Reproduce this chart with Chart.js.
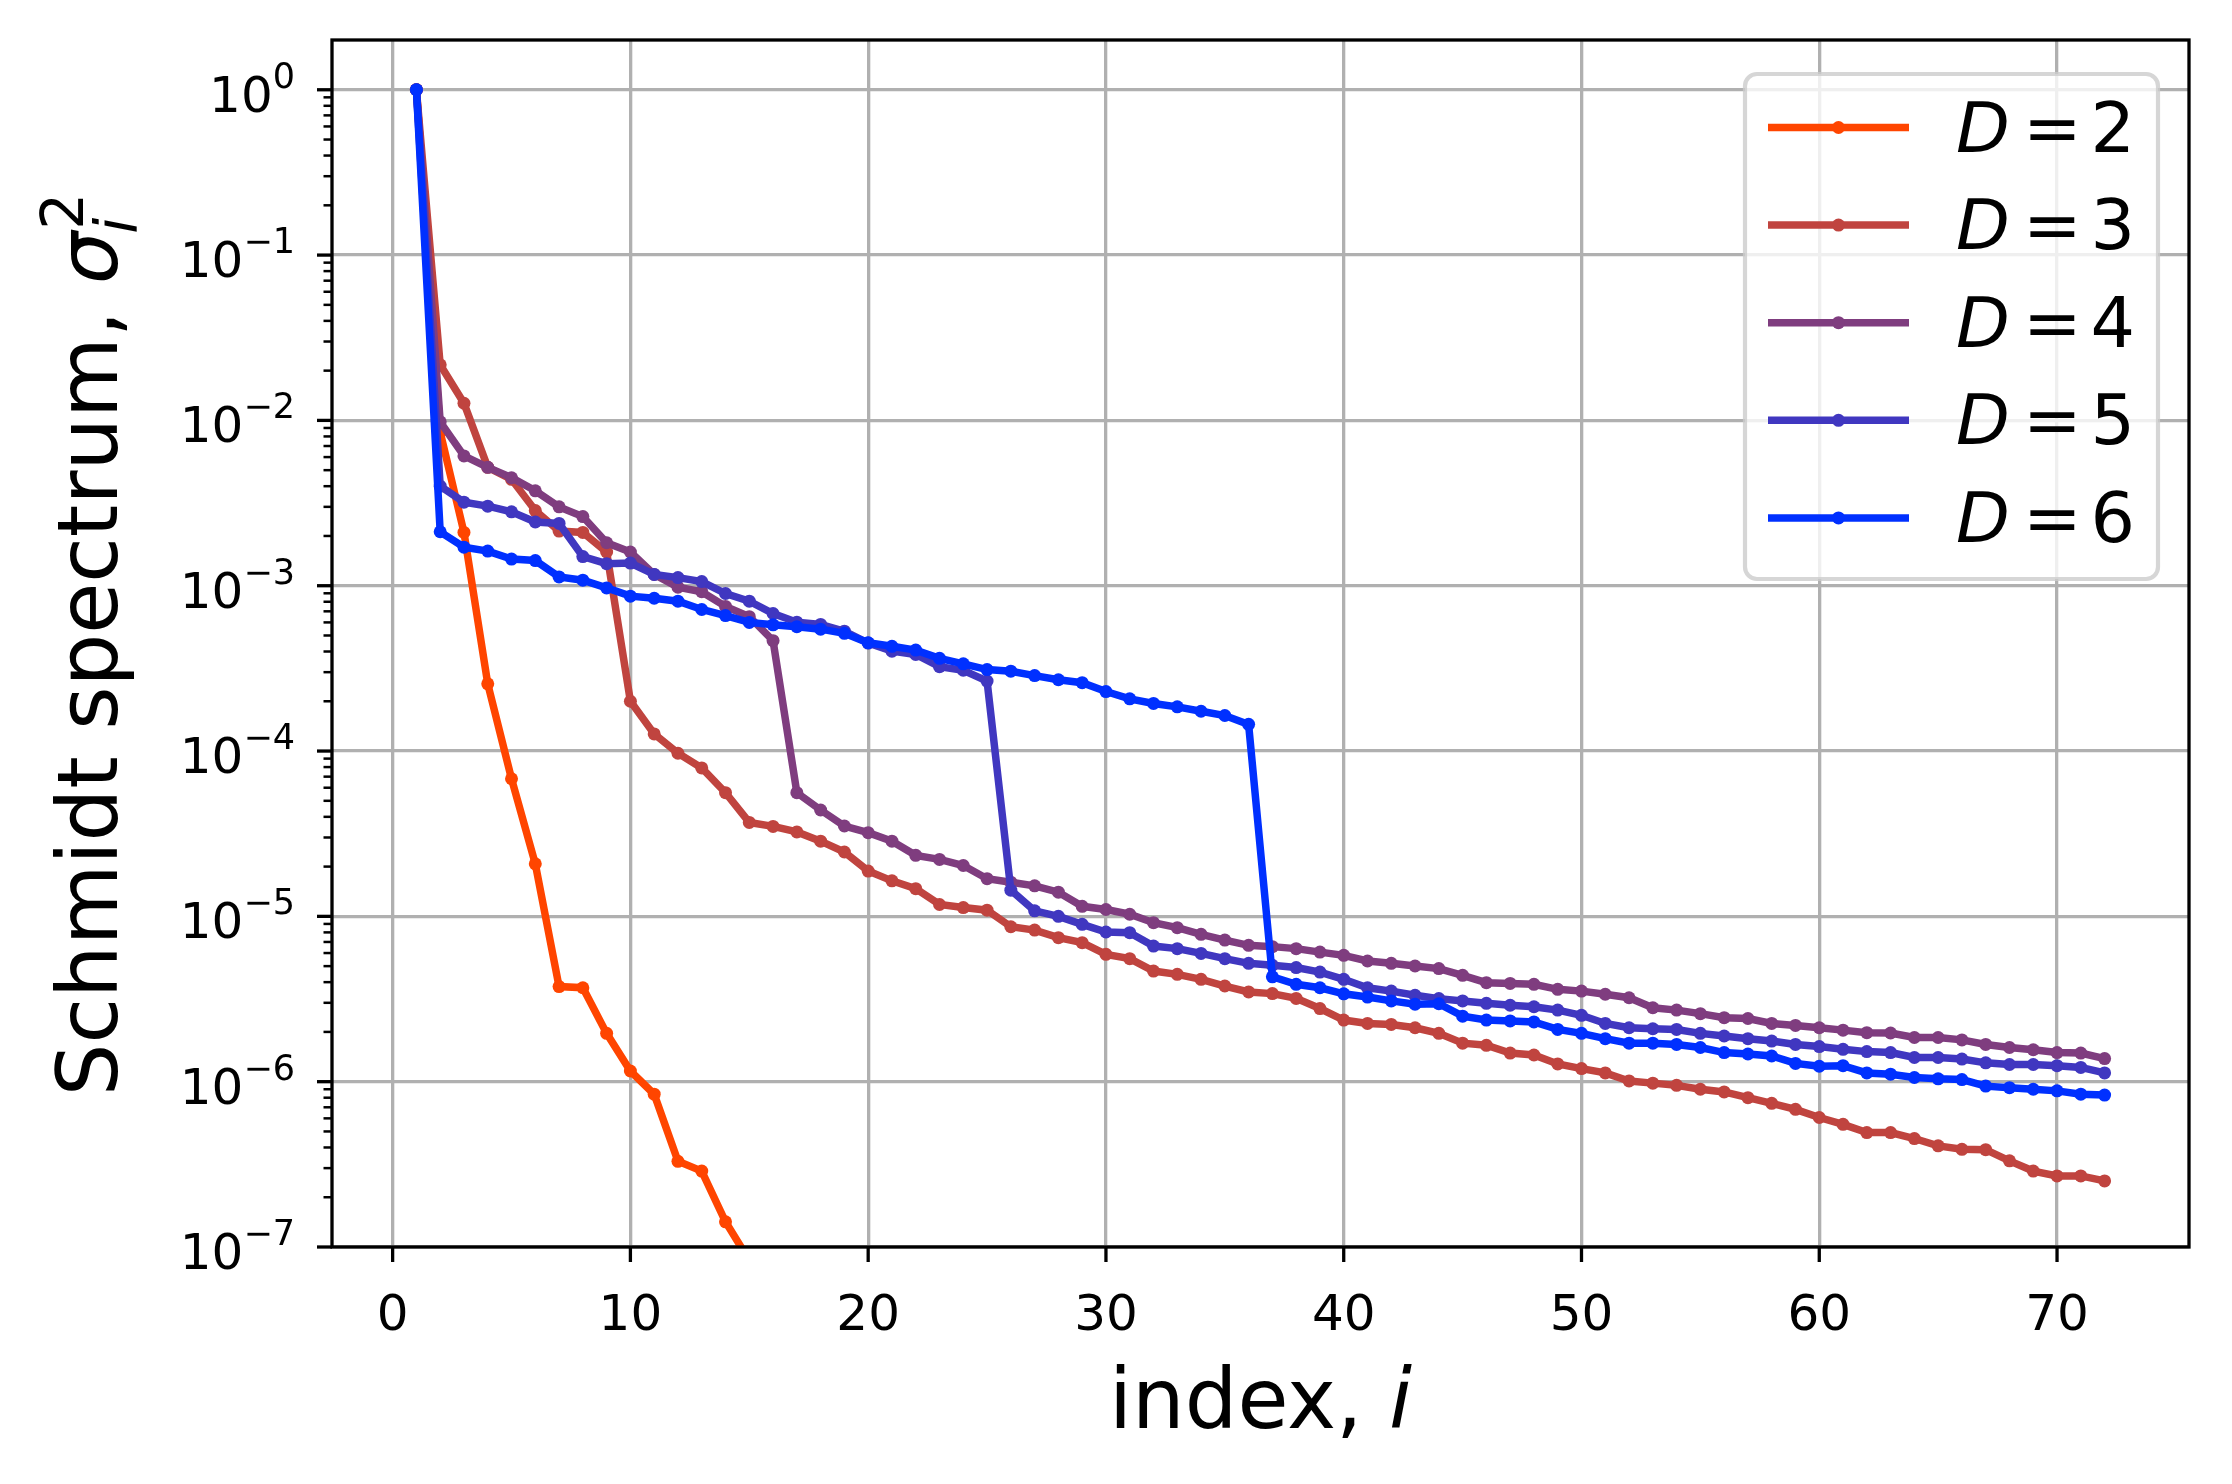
<!DOCTYPE html>
<html>
<head>
<meta charset="utf-8">
<script src="https://cdn.jsdelivr.net/npm/chart.js@4.4.1/dist/chart.umd.min.js"></script>
<style>
  html, body { margin: 0; padding: 0; background: #ffffff; }
  canvas { display: block; }
</style>
</head>
<body>
<canvas id="spectrum" width="2232" height="1484"></canvas>
<script>
// tick positions
var xTicks = [0, 10, 20, 30, 40, 50, 60, 70];
var yExponents = [-7, -6, -5, -4, -3, -2, -1, 0];

// bond dimensions and colours of the curves
var bondDims = [2, 3, 4, 5, 6];
var colors = ['#ff4500', '#c0443f', '#7f3d7f', '#4037c0', '#0030ff'];

// Schmidt values sigma_i^2, i = 1, 2, ...
var d2 = [1, 8.5e-3, 2.1e-3, 2.55e-4, 6.8e-5, 2.08e-5, 3.76e-6, 3.7e-6, 1.96e-6, 1.16e-6,
  8.4e-7, 3.3e-7, 2.88e-7, 1.42e-7, 8.3e-8];

var d3 = [1, 2.17e-2, 1.27e-2, 5.2e-3, 4.4e-3, 2.85e-3, 2.14e-3, 2.1e-3, 1.6e-3, 2.0e-4,
  1.27e-4, 9.7e-5, 7.9e-5, 5.6e-5, 3.7e-5, 3.5e-5, 3.24e-5, 2.85e-5, 2.45e-5, 1.88e-5,
  1.64e-5, 1.47e-5, 1.18e-5, 1.13e-5, 1.09e-5, 8.65e-6, 8.26e-6, 7.43e-6, 6.93e-6, 5.89e-6,
  5.55e-6, 4.67e-6, 4.46e-6, 4.16e-6, 3.79e-6, 3.49e-6, 3.41e-6, 3.19e-6, 2.77e-6, 2.36e-6,
  2.25e-6, 2.22e-6, 2.12e-6, 1.96e-6, 1.71e-6, 1.66e-6, 1.49e-6, 1.45e-6, 1.28e-6, 1.2e-6,
  1.13e-6, 1.01e-6, 9.8e-7, 9.5e-7, 9.0e-7, 8.67e-7, 8.0e-7, 7.4e-7, 6.8e-7, 6.07e-7,
  5.52e-7, 4.92e-7, 4.92e-7, 4.53e-7, 4.09e-7, 3.9e-7, 3.88e-7, 3.32e-7, 2.88e-7, 2.69e-7,
  2.69e-7, 2.51e-7];

var d4 = [1, 9.8e-3, 6.1e-3, 5.2e-3, 4.5e-3, 3.75e-3, 3.0e-3, 2.62e-3, 1.82e-3, 1.6e-3,
  1.17e-3, 9.8e-4, 9.2e-4, 7.5e-4, 6.5e-4, 4.65e-4, 5.6e-5, 4.4e-5, 3.52e-5, 3.21e-5,
  2.85e-5, 2.34e-5, 2.21e-5, 2.03e-5, 1.69e-5, 1.61e-5, 1.53e-5, 1.4e-5, 1.15e-5, 1.1e-5,
  1.03e-5, 9.16e-6, 8.54e-6, 7.79e-6, 7.19e-6, 6.68e-6, 6.56e-6, 6.38e-6, 6.08e-6, 5.81e-6,
  5.37e-6, 5.2e-6, 5.01e-6, 4.83e-6, 4.4e-6, 3.97e-6, 3.93e-6, 3.88e-6, 3.62e-6, 3.53e-6,
  3.38e-6, 3.22e-6, 2.8e-6, 2.71e-6, 2.58e-6, 2.44e-6, 2.41e-6, 2.25e-6, 2.19e-6, 2.12e-6,
  2.05e-6, 1.98e-6, 1.97e-6, 1.85e-6, 1.85e-6, 1.79e-6, 1.68e-6, 1.61e-6, 1.56e-6, 1.5e-6,
  1.49e-6, 1.38e-6];

var d5 = [1, 4.0e-3, 3.2e-3, 3.03e-3, 2.8e-3, 2.43e-3, 2.38e-3, 1.5e-3, 1.36e-3, 1.37e-3,
  1.17e-3, 1.12e-3, 1.06e-3, 8.97e-4, 8.06e-4, 6.79e-4, 6.02e-4, 5.83e-4, 5.31e-4, 4.5e-4,
  4.02e-4, 3.84e-4, 3.24e-4, 3.08e-4, 2.65e-4, 1.44e-5, 1.08e-5, 1.0e-5, 8.95e-6, 8.04e-6,
  7.97e-6, 6.61e-6, 6.38e-6, 5.97e-6, 5.55e-6, 5.2e-6, 5.06e-6, 4.9e-6, 4.6e-6, 4.16e-6,
  3.7e-6, 3.53e-6, 3.33e-6, 3.18e-6, 3.08e-6, 2.98e-6, 2.9e-6, 2.84e-6, 2.71e-6, 2.52e-6,
  2.25e-6, 2.12e-6, 2.09e-6, 2.07e-6, 1.96e-6, 1.89e-6, 1.82e-6, 1.76e-6, 1.68e-6, 1.63e-6,
  1.57e-6, 1.52e-6, 1.5e-6, 1.4e-6, 1.4e-6, 1.37e-6, 1.3e-6, 1.27e-6, 1.27e-6, 1.25e-6,
  1.22e-6, 1.13e-6];

var d6 = [1, 2.12e-3, 1.71e-3, 1.62e-3, 1.45e-3, 1.42e-3, 1.13e-3, 1.08e-3, 9.7e-4, 8.65e-4,
  8.4e-4, 8.06e-4, 7.18e-4, 6.6e-4, 6.0e-4, 5.8e-4, 5.65e-4, 5.46e-4, 5.15e-4, 4.52e-4,
  4.3e-4, 4.08e-4, 3.64e-4, 3.37e-4, 3.11e-4, 3.04e-4, 2.86e-4, 2.7e-4, 2.59e-4, 2.29e-4,
  2.07e-4, 1.94e-4, 1.85e-4, 1.74e-4, 1.64e-4, 1.45e-4, 4.31e-6, 3.88e-6, 3.7e-6, 3.4e-6,
  3.25e-6, 3.08e-6, 2.94e-6, 2.96e-6, 2.49e-6, 2.36e-6, 2.33e-6, 2.3e-6, 2.07e-6, 1.96e-6,
  1.82e-6, 1.71e-6, 1.71e-6, 1.68e-6, 1.61e-6, 1.5e-6, 1.47e-6, 1.43e-6, 1.29e-6, 1.24e-6,
  1.25e-6, 1.13e-6, 1.11e-6, 1.06e-6, 1.04e-6, 1.03e-6, 9.4e-7, 9.2e-7, 9.0e-7, 8.8e-7,
  8.4e-7, 8.3e-7];

var series = [d2, d3, d4, d5, d6];

var FONT = '"DejaVu Sans"';
var LINE_W = 7.5;
var DOT_R = 6.5;

function toPoints(values) {
  return values.map(function (v, k) { return {x: k + 1, y: v}; });
}

var datasets = bondDims.map(function (D, k) {
  return {
    label: 'D = ' + D,
    data: toPoints(series[k]),
    borderColor: colors[k],
    backgroundColor: colors[k],
    pointBackgroundColor: colors[k],
    borderWidth: LINE_W,
    pointRadius: DOT_R,
    pointBorderWidth: 0,
    pointHoverRadius: DOT_R,
    tension: 0,
    order: bondDims.length - k
  };
});

// axes box, ticks, labels and legend drawn matplotlib style
var decorations = {
  id: 'decorations',
  afterDatasetsDraw: function (chart) {
    var ctx = chart.ctx;
    var area = chart.chartArea;
    var xs = chart.scales.x;
    var ys = chart.scales.y;
    ctx.save();

    // spines
    ctx.strokeStyle = '#000000';
    ctx.lineWidth = 3.3;
    ctx.lineJoin = 'miter';
    ctx.strokeRect(area.left, area.top, area.right - area.left, area.bottom - area.top);

    // x ticks
    ctx.fillStyle = '#000000';
    ctx.font = '50px ' + FONT;
    ctx.textAlign = 'center';
    ctx.textBaseline = 'alphabetic';
    xTicks.forEach(function (v) {
      var px = xs.getPixelForValue(v);
      ctx.lineWidth = 3.3;
      ctx.beginPath();
      ctx.moveTo(px, area.bottom);
      ctx.lineTo(px, area.bottom + 15);
      ctx.stroke();
      ctx.fillText(String(v), px, area.bottom + 83);
    });

    // y ticks, major and minor
    yExponents.forEach(function (e) {
      var py = ys.getPixelForValue(Math.pow(10, e));
      ctx.lineWidth = 3.3;
      ctx.beginPath();
      ctx.moveTo(area.left, py);
      ctx.lineTo(area.left - 15, py);
      ctx.stroke();
      for (var m = 2; m <= 9; m++) {
        var pm = ys.getPixelForValue(m * Math.pow(10, e));
        if (pm < area.top + 1) continue;
        ctx.lineWidth = 2.5;
        ctx.beginPath();
        ctx.moveTo(area.left, pm);
        ctx.lineTo(area.left - 8.5, pm);
        ctx.stroke();
      }
      var expText = e === 0 ? '0' : '\u2212' + Math.abs(e);
      ctx.textAlign = 'left';
      ctx.font = '35px ' + FONT;
      var wExp = ctx.measureText(expText).width;
      ctx.font = '50px ' + FONT;
      var wTen = ctx.measureText('10').width;
      var right = 295;
      var base = py + 22;
      ctx.fillText('10', right - wExp - wTen, base);
      ctx.font = '35px ' + FONT;
      ctx.fillText(expText, right - wExp, base - 24);
    });

    // x axis title
    ctx.font = '83px ' + FONT;
    var wIndex = ctx.measureText('index, ').width;
    ctx.font = 'italic 83px ' + FONT;
    var wI = ctx.measureText('i').width;
    var x0 = (area.left + area.right) / 2 - (wIndex + wI) / 2;
    ctx.textAlign = 'left';
    ctx.font = '83px ' + FONT;
    ctx.fillText('index, ', x0, 1428);
    ctx.font = 'italic 83px ' + FONT;
    ctx.fillText('i', x0 + wIndex, 1428);

    // y axis title, rotated
    ctx.save();
    ctx.translate(117, (area.top + area.bottom) / 2 + 2);
    ctx.rotate(-Math.PI / 2);
    ctx.font = '83px ' + FONT;
    var wMain = ctx.measureText('Schmidt spectrum, ').width;
    ctx.font = 'italic 83px ' + FONT;
    var wSig = ctx.measureText('\u03c3').width;
    ctx.font = '58px ' + FONT;
    var wTwo = ctx.measureText('2').width;
    var start = -(wMain + wSig + wTwo) / 2;
    ctx.font = '83px ' + FONT;
    ctx.fillText('Schmidt spectrum, ', start, 0);
    ctx.font = 'italic 83px ' + FONT;
    ctx.fillText('\u03c3', start + wMain, 0);
    ctx.font = '58px ' + FONT;
    ctx.fillText('2', start + wMain + wSig + 2, -34);
    ctx.font = 'italic 58px ' + FONT;
    ctx.fillText('i', start + wMain + wSig - 2, 20);
    ctx.restore();

    // legend
    var bx = 1745, by = 74, bw = 413, bh = 505, r = 12;
    ctx.beginPath();
    ctx.moveTo(bx + r, by);
    ctx.arcTo(bx + bw, by, bx + bw, by + bh, r);
    ctx.arcTo(bx + bw, by + bh, bx, by + bh, r);
    ctx.arcTo(bx, by + bh, bx, by, r);
    ctx.arcTo(bx, by, bx + bw, by, r);
    ctx.closePath();
    ctx.fillStyle = 'rgba(255,255,255,0.8)';
    ctx.fill();
    ctx.strokeStyle = 'rgba(204,204,204,0.8)';
    ctx.lineWidth = 4.2;
    ctx.stroke();

    chart.data.datasets.forEach(function (ds, k) {
      var ry = 127.5 + 97.6 * k;
      ctx.strokeStyle = ds.borderColor;
      ctx.lineWidth = LINE_W;
      ctx.lineCap = 'butt';
      ctx.beginPath();
      ctx.moveTo(1768, ry);
      ctx.lineTo(1909, ry);
      ctx.stroke();
      ctx.fillStyle = ds.borderColor;
      ctx.beginPath();
      ctx.arc(1838.5, ry, DOT_R, 0, Math.PI * 2);
      ctx.fill();

      ctx.fillStyle = '#000000';
      ctx.textAlign = 'left';
      var tx = 1956, base = ry + 24;
      ctx.font = 'italic 70px ' + FONT;
      ctx.fillText('D', tx, base);
      tx += ctx.measureText('D').width + 13;
      ctx.font = '70px ' + FONT;
      ctx.fillText('=', tx, base);
      tx += ctx.measureText('=').width + 9;
      ctx.fillText(String(bondDims[k]), tx, base);
    });

    ctx.restore();
  }
};

new Chart(document.getElementById('spectrum'), {
  type: 'line',
  data: { datasets: datasets },
  options: {
    responsive: false,
    devicePixelRatio: 1,
    animation: false,
    layout: { padding: { top: 40, right: 43, bottom: 0, left: 0 } },
    plugins: {
      legend: { display: false },
      tooltip: { enabled: false }
    },
    scales: {
      x: {
        type: 'linear',
        min: -2.55,
        max: 75.55,
        afterBuildTicks: function (scale) {
          scale.ticks = xTicks.map(function (v) { return {value: v}; });
        },
        afterFit: function (scale) { scale.height = 237; },
        ticks: { display: false },
        border: { display: false },
        grid: { color: '#b0b0b0', lineWidth: 3.3, drawTicks: false }
      },
      y: {
        type: 'logarithmic',
        min: 1e-7,
        max: 2,
        afterBuildTicks: function (scale) {
          scale.ticks = yExponents.map(function (e) { return {value: Math.pow(10, e), major: true}; });
        },
        afterFit: function (scale) { scale.width = 332; },
        ticks: { display: false },
        border: { display: false },
        grid: { color: '#b0b0b0', lineWidth: 3.3, drawTicks: false }
      }
    }
  },
  plugins: [decorations]
});
</script>
</body>
</html>
